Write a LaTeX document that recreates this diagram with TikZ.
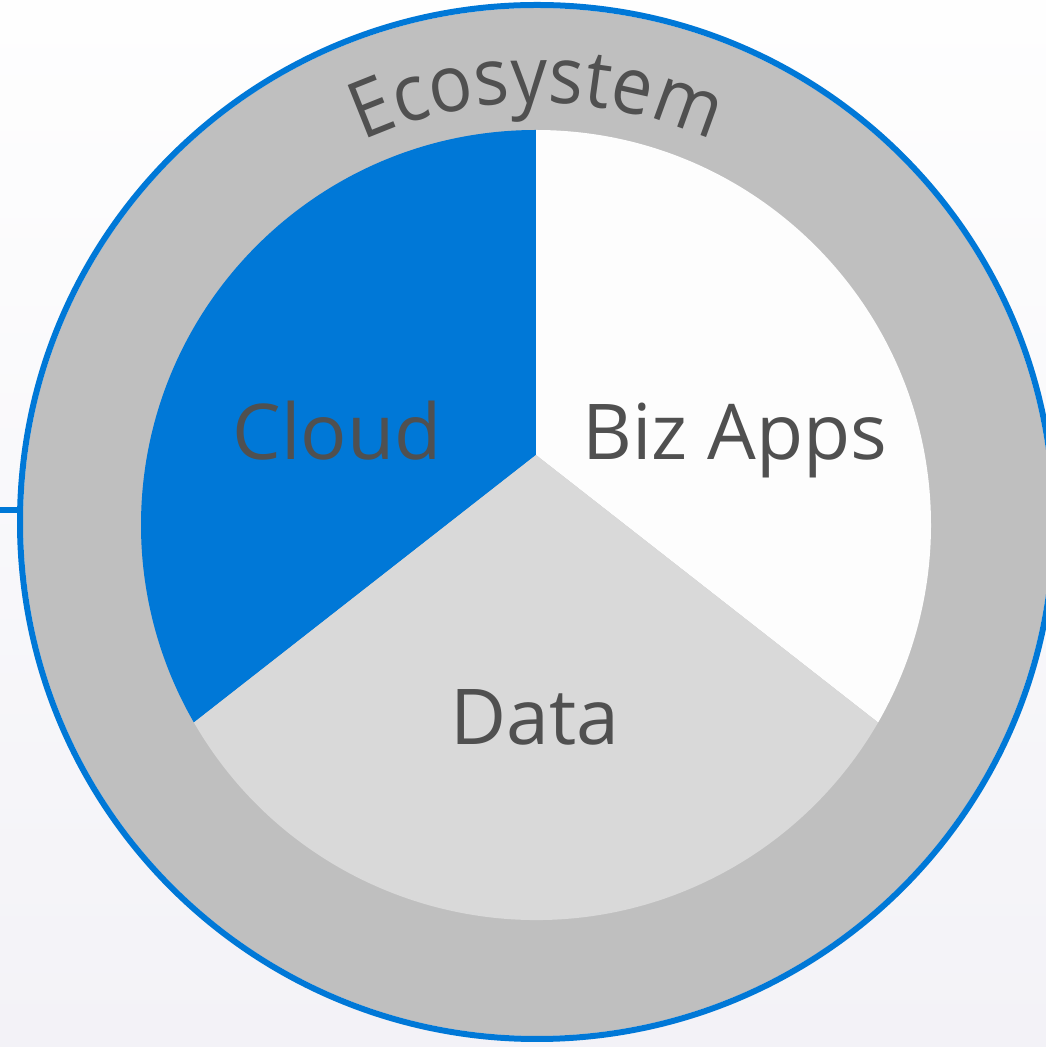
\documentclass[tikz,border=0pt]{standalone}
\usepackage{fontspec}
\setmainfont{Open Sans}
\newfontfamily\ecofam[FakeStretch=0.92]{Open Sans}
\usetikzlibrary{decorations.text,calc}
\definecolor{msblue}{HTML}{0078D7}
\definecolor{ringgray}{HTML}{BFBFBF}
\definecolor{datagray}{HTML}{D9D9D9}
\definecolor{bizwhite}{HTML}{FDFDFD}
\definecolor{txtgray}{HTML}{505050}
\definecolor{bgtop}{HTML}{FEFEFE}
\definecolor{bgbot}{HTML}{F3F2F7}
\newcommand\ecofont{\ecofam\fontsize{79}{86}\selectfont}
\tikzset{
  slicelabel/.style={anchor=base, text=txtgray, font=\fontsize{77}{90}\selectfont, inner sep=0pt},
}
\begin{document}
\begin{tikzpicture}[x=1pt,y=1pt]
\useasboundingbox (0,0) rectangle (1046,1047);
\clip (0,0) rectangle (1046,1047);
\shade[top color=bgtop, bottom color=bgbot] (0,0) rectangle (1046,1047);
% connector from left
\coordinate (linestart) at (0,537);
\coordinate (lineend) at (20,537);
\draw[msblue, line width=6pt] (linestart) -- (lineend);
% outer ring
\coordinate (oc) at (537,525);
\fill[ringgray] (oc) circle[radius=514];
\draw[msblue, line width=6pt] (oc) circle[radius=517];
% pie
\coordinate (ic) at (536,522);
\coordinate (v) at (536,592);
\fill[msblue] (v) -- ($(ic)+(90:395)$) arc[start angle=90, end angle=210, radius=395] -- cycle;
\fill[bizwhite] (v) -- ($(ic)+(90:395)$) arc[start angle=90, end angle=-30, radius=395] -- cycle;
\fill[datagray] (v) -- ($(ic)+(210:395)$) arc[start angle=210, end angle=330, radius=395] -- cycle;
% labels
\node[slicelabel] (cloud) at (337,587) {Cloud};
\node[slicelabel] (biz) at (735,587) {Biz Apps};
\node[slicelabel] (data) at (535,302) {Data};
% curved label
\path[decorate, decoration={text along path, text={|\ecofont|Ecosystem}, text align=center, text color=txtgray}]
  ($(oc)+(128:419)$) arc[start angle=128, end angle=52, radius=419];
\end{tikzpicture}
\end{document}
